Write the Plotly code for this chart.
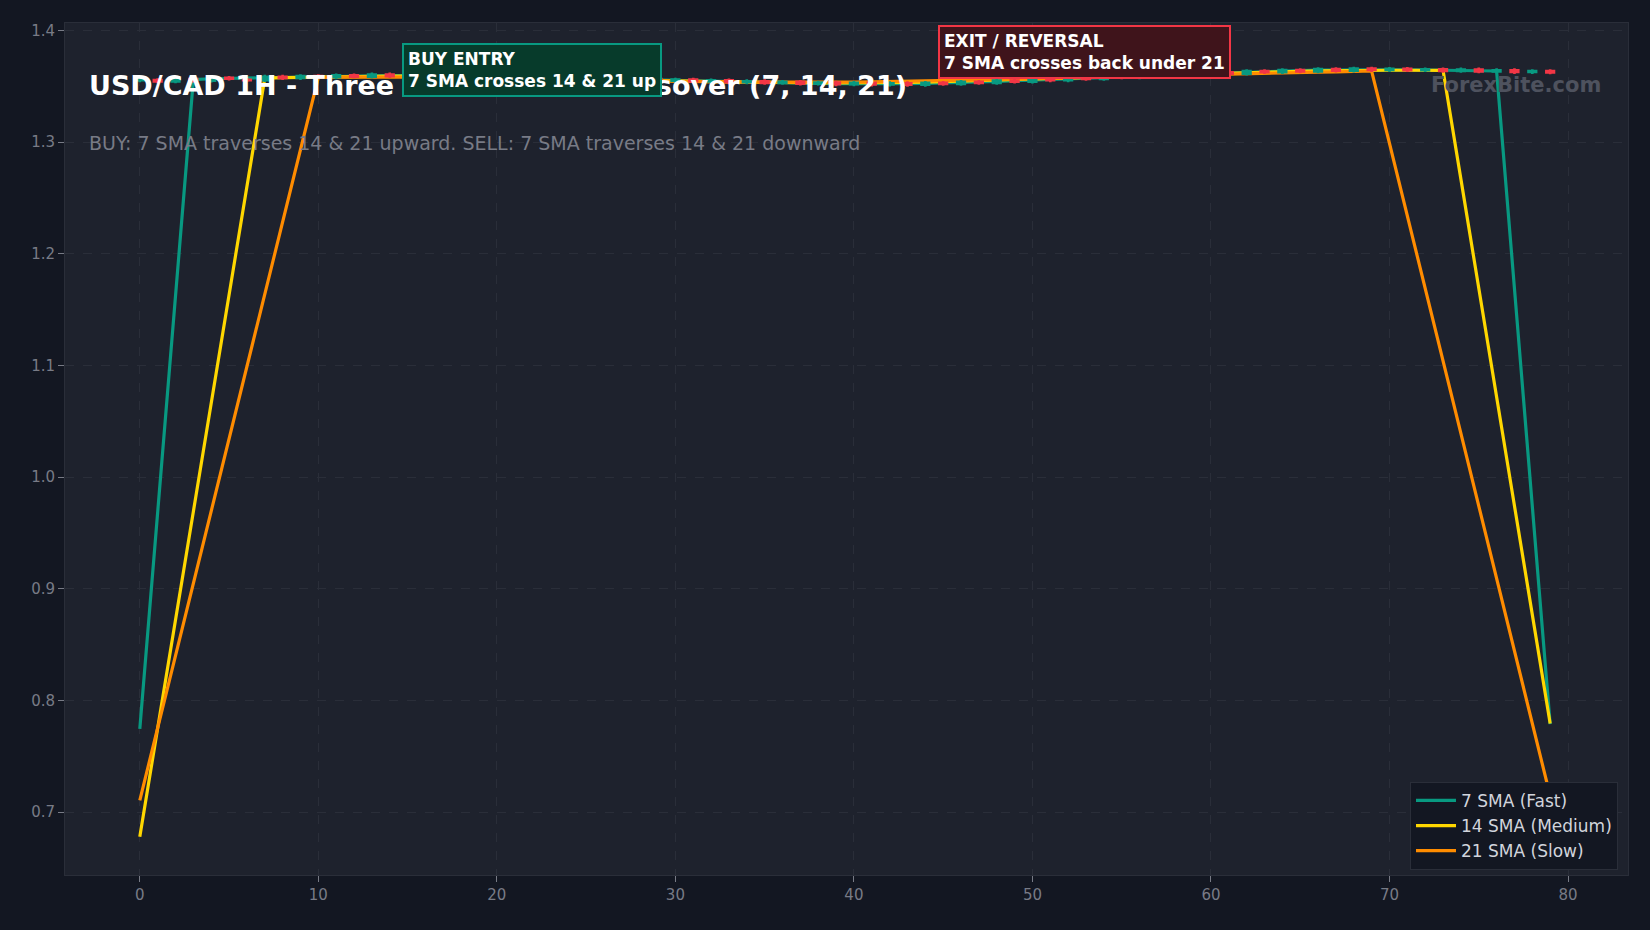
import plotly.graph_objects as go

bars = list(range(80))

open_ = [1.3548, 1.3560, 1.3538, 1.3570, 1.3545, 1.3580, 1.3562, 1.3550, 1.3590, 1.3568,
         1.3595, 1.3575, 1.3602, 1.3580, 1.3610, 1.3585, 1.3606, 1.3582, 1.3612, 1.3590,
         1.3578, 1.3605, 1.3580, 1.3596, 1.3570, 1.3592, 1.3560, 1.3582, 1.3555, 1.3570,
         1.3545, 1.3565, 1.3538, 1.3558, 1.3530, 1.3550, 1.3525, 1.3545, 1.3518, 1.3538,
         1.3512, 1.3535, 1.3510, 1.3532, 1.3508, 1.3536, 1.3515, 1.3545, 1.3525, 1.3556,
         1.3535, 1.3568, 1.3548, 1.3580, 1.3560, 1.3592, 1.3574, 1.3605, 1.3585, 1.3618,
         1.3598, 1.3630, 1.3608, 1.3640, 1.3620, 1.3650, 1.3628, 1.3658, 1.3635, 1.3662,
         1.3640, 1.3660, 1.3638, 1.3656, 1.3632, 1.3655, 1.3628, 1.3648, 1.3622, 1.3640]

close = [1.3560, 1.3538, 1.3570, 1.3545, 1.3580, 1.3562, 1.3550, 1.3590, 1.3568, 1.3595,
         1.3575, 1.3602, 1.3580, 1.3610, 1.3585, 1.3606, 1.3582, 1.3612, 1.3590, 1.3578,
         1.3605, 1.3580, 1.3596, 1.3570, 1.3592, 1.3560, 1.3582, 1.3555, 1.3570, 1.3545,
         1.3565, 1.3538, 1.3558, 1.3530, 1.3550, 1.3525, 1.3545, 1.3518, 1.3538, 1.3512,
         1.3535, 1.3510, 1.3532, 1.3508, 1.3536, 1.3515, 1.3545, 1.3525, 1.3556, 1.3535,
         1.3568, 1.3548, 1.3580, 1.3560, 1.3592, 1.3574, 1.3605, 1.3585, 1.3618, 1.3598,
         1.3630, 1.3608, 1.3640, 1.3620, 1.3650, 1.3628, 1.3658, 1.3635, 1.3662, 1.3640,
         1.3660, 1.3638, 1.3656, 1.3632, 1.3655, 1.3628, 1.3648, 1.3622, 1.3640, 1.3618]

high = [1.3565, 1.3565, 1.3575, 1.3575, 1.3585, 1.3585, 1.3567, 1.3595, 1.3595, 1.3600,
        1.3600, 1.3607, 1.3607, 1.3615, 1.3615, 1.3611, 1.3611, 1.3617, 1.3617, 1.3595,
        1.3610, 1.3610, 1.3601, 1.3601, 1.3597, 1.3597, 1.3587, 1.3587, 1.3575, 1.3575,
        1.3570, 1.3570, 1.3563, 1.3563, 1.3555, 1.3555, 1.3550, 1.3550, 1.3543, 1.3543,
        1.3540, 1.3540, 1.3537, 1.3537, 1.3541, 1.3541, 1.3550, 1.3550, 1.3561, 1.3561,
        1.3573, 1.3573, 1.3585, 1.3585, 1.3597, 1.3597, 1.3610, 1.3610, 1.3623, 1.3623,
        1.3635, 1.3635, 1.3645, 1.3645, 1.3655, 1.3655, 1.3663, 1.3663, 1.3667, 1.3667,
        1.3665, 1.3665, 1.3661, 1.3661, 1.3660, 1.3660, 1.3653, 1.3653, 1.3645, 1.3645]

low = [1.3543, 1.3533, 1.3533, 1.3540, 1.3540, 1.3557, 1.3545, 1.3545, 1.3563, 1.3563,
       1.3570, 1.3570, 1.3575, 1.3575, 1.3580, 1.3580, 1.3577, 1.3577, 1.3585, 1.3573,
       1.3573, 1.3575, 1.3575, 1.3565, 1.3565, 1.3555, 1.3555, 1.3550, 1.3550, 1.3540,
       1.3540, 1.3533, 1.3533, 1.3525, 1.3525, 1.3520, 1.3520, 1.3513, 1.3513, 1.3507,
       1.3507, 1.3505, 1.3505, 1.3503, 1.3503, 1.3510, 1.3510, 1.3520, 1.3520, 1.3530,
       1.3530, 1.3543, 1.3543, 1.3555, 1.3555, 1.3569, 1.3569, 1.3580, 1.3580, 1.3593,
       1.3593, 1.3603, 1.3603, 1.3615, 1.3615, 1.3623, 1.3623, 1.3630, 1.3630, 1.3635,
       1.3635, 1.3633, 1.3633, 1.3627, 1.3627, 1.3623, 1.3623, 1.3617, 1.3617, 1.3613]

sma7 = [0.7745, 0.9683, 1.1622, 1.3559, 1.3567, 1.3570, 1.3574, 1.3576, 1.3581, 1.3584,
        1.3586, 1.3588, 1.3590, 1.3592, 1.3594, 1.3595, 1.3595, 1.3595, 1.3595, 1.3594,
        1.3592, 1.3589, 1.3586, 1.3581, 1.3578, 1.3573, 1.3569, 1.3564, 1.3560, 1.3555,
        1.3551, 1.3548, 1.3545, 1.3541, 1.3538, 1.3535, 1.3532, 1.3529, 1.3526, 1.3524,
        1.3522, 1.3522, 1.3522, 1.3523, 1.3526, 1.3528, 1.3533, 1.3538, 1.3543, 1.3549,
        1.3555, 1.3562, 1.3568, 1.3574, 1.3580, 1.3586, 1.3592, 1.3598, 1.3604, 1.3610,
        1.3615, 1.3621, 1.3626, 1.3631, 1.3636, 1.3640, 1.3644, 1.3646, 1.3648, 1.3650,
        1.3649, 1.3647, 1.3645, 1.3644, 1.3642, 1.3640, 1.3636, 1.1688, 0.9738, 0.7789]

sma14 = [0.6780, 0.7749, 0.8719, 0.9689, 1.0659, 1.1630, 1.2600, 1.3572, 1.3577, 1.3580,
         1.3583, 1.3585, 1.3587, 1.3589, 1.3590, 1.3590, 1.3590, 1.3589, 1.3588, 1.3586,
         1.3584, 1.3581, 1.3578, 1.3574, 1.3570, 1.3566, 1.3562, 1.3558, 1.3554, 1.3550,
         1.3547, 1.3543, 1.3540, 1.3537, 1.3535, 1.3533, 1.3531, 1.3530, 1.3529, 1.3529,
         1.3529, 1.3530, 1.3532, 1.3534, 1.3537, 1.3541, 1.3545, 1.3549, 1.3554, 1.3559,
         1.3564, 1.3569, 1.3574, 1.3580, 1.3585, 1.3590, 1.3595, 1.3600, 1.3605, 1.3610,
         1.3614, 1.3619, 1.3623, 1.3627, 1.3631, 1.3634, 1.3637, 1.3640, 1.3641, 1.3642,
         1.3643, 1.3643, 1.3643, 1.3642, 1.2668, 1.1693, 1.0718, 0.9743, 0.8768, 0.7793]

sma21 = [0.7106, 0.7753, 0.8400, 0.9048, 0.9695, 1.0342, 1.0990, 1.1637, 1.2285, 1.2932,
         1.3579, 1.3581, 1.3582, 1.3583, 1.3583, 1.3583, 1.3582, 1.3581, 1.3579, 1.3577,
         1.3574, 1.3571, 1.3568, 1.3565, 1.3561, 1.3558, 1.3555, 1.3552, 1.3549, 1.3546,
         1.3544, 1.3542, 1.3540, 1.3538, 1.3537, 1.3536, 1.3535, 1.3535, 1.3535, 1.3536,
         1.3537, 1.3538, 1.3540, 1.3543, 1.3546, 1.3549, 1.3553, 1.3556, 1.3560, 1.3564,
         1.3568, 1.3572, 1.3576, 1.3580, 1.3584, 1.3588, 1.3592, 1.3596, 1.3600, 1.3604,
         1.3607, 1.3611, 1.3614, 1.3617, 1.3620, 1.3623, 1.3626, 1.3629, 1.3632, 1.3636,
         1.2988, 1.2340, 1.1691, 1.1043, 1.0394, 0.9744, 0.9095, 0.8455, 0.7796, 0.7145]

series_names = ["7 SMA (Fast)", "14 SMA (Medium)", "21 SMA (Slow)"]
series_colors = ["#089981", "#FFD700", "#FF8C00"]
x_ticks = [0, 10, 20, 30, 40, 50, 60, 70, 80]
y_ticks = [0.7, 0.8, 0.9, 1.0, 1.1, 1.2, 1.3, 1.4]

title_text = "USD/CAD 1H - Three Period SMA Crossover (7, 14, 21)"
subtitle_text = "BUY: 7 SMA traverses 14 & 21 upward. SELL: 7 SMA traverses 14 & 21 downward"
buy_text = "BUY ENTRY<br>7 SMA crosses 14 & 21 up"
exit_text = "EXIT / REVERSAL<br>7 SMA crosses back under 21"
watermark = "ForexBite.com"

FONT = "DejaVu Sans"
XR = [-4.19, 83.36]
YR = [0.6437, 1.4066]

fig = go.Figure()

for vals, name, col in zip([sma7, sma14, sma21], series_names, series_colors):
    fig.add_trace(go.Scatter(x=bars, y=vals, mode="lines", name=name,
                             line=dict(color=col, width=3.2)))

# candles on an overlaid axis pair so they are drawn above the SMA lines
fig.add_trace(go.Candlestick(
    x=bars, open=open_, high=high, low=low, close=close,
    xaxis="x2", yaxis="y2",
    increasing=dict(line=dict(color="#089981", width=1.5), fillcolor="#089981"),
    decreasing=dict(line=dict(color="#F23645", width=1.5), fillcolor="#F23645"),
    showlegend=False, whiskerwidth=0.3, hoverinfo="skip"))

grid = "#2A2E39"
tick_col = "#787B86"

fig.update_layout(
    width=1650, height=930,
    paper_bgcolor="#131722", plot_bgcolor="#1E222D",
    margin=dict(l=65, r=22, t=23, b=55),
    font=dict(family=FONT, color=tick_col),
    showlegend=True,
    legend=dict(x=0.9936, y=0.006, xanchor="right", yanchor="bottom",
                bgcolor="#131722", bordercolor="#2A2E39", borderwidth=1,
                font=dict(family=FONT, size=17, color="#D1D4DC"),
                itemwidth=40, tracegroupgap=2),
    xaxis=dict(range=XR, tickvals=x_ticks, showgrid=True,
               gridcolor=grid, griddash="dash", gridwidth=1,
               zeroline=False, ticks="outside", ticklen=6, tickcolor=tick_col,
               tickfont=dict(family=FONT, size=15, color=tick_col),
               showline=True, linecolor=grid, mirror=True,
               rangeslider=dict(visible=False)),
    yaxis=dict(range=YR, tickvals=y_ticks, tickformat=".1f",
               showgrid=True, gridcolor=grid, griddash="dash", gridwidth=1,
               zeroline=False, ticks="outside", ticklen=6, tickcolor=tick_col,
               tickfont=dict(family=FONT, size=15, color=tick_col),
               showline=True, linecolor=grid, mirror=True),
    xaxis2=dict(range=XR, overlaying="x", visible=False,
                rangeslider=dict(visible=False)),
    yaxis2=dict(range=YR, overlaying="y", visible=False),
)

fig.add_annotation(xref="paper", yref="paper", x=0.0141, y=0.927,
                   xanchor="left", yanchor="middle", showarrow=False,
                   text="<b>" + title_text + "</b>",
                   font=dict(family=FONT, size=27, color="#FFFFFF"))
fig.add_annotation(xref="paper", yref="paper", x=0.0141, y=0.859,
                   xanchor="left", yanchor="middle", showarrow=False,
                   text=subtitle_text,
                   font=dict(family=FONT, size=19, color="#787B86"))
fig.add_annotation(xref="paper", yref="paper", x=0.984, y=0.927,
                   xanchor="right", yanchor="middle", showarrow=False,
                   text="<b>" + watermark + "</b>",
                   font=dict(family=FONT, size=21, color="#4E525E"))

# callout boxes, added after the title so they sit above it
fig.add_annotation(xref="paper", yref="paper", x=0.2156, y=0.9451,
                   xanchor="left", yanchor="middle",
                   showarrow=False, align="left", text="<b>" + buy_text + "</b>",
                   font=dict(family=FONT, size=17, color="#FFFFFF"),
                   bgcolor="#073B2B", bordercolor="#089981", borderwidth=2,
                   borderpad=4)
fig.add_annotation(xref="paper", yref="paper", x=0.5585, y=0.9656,
                   xanchor="left", yanchor="middle",
                   showarrow=False, align="left", text="<b>" + exit_text + "</b>",
                   font=dict(family=FONT, size=17, color="#FFFFFF"),
                   bgcolor="#3F141B", bordercolor="#F23645", borderwidth=2,
                   borderpad=4)

fig.write_html("out.html",
               config={"displayModeBar": False},
               post_script="document.body.style.margin='0';"
                           "document.body.style.background='#131722';"
                           "document.body.style.overflow='hidden';")
